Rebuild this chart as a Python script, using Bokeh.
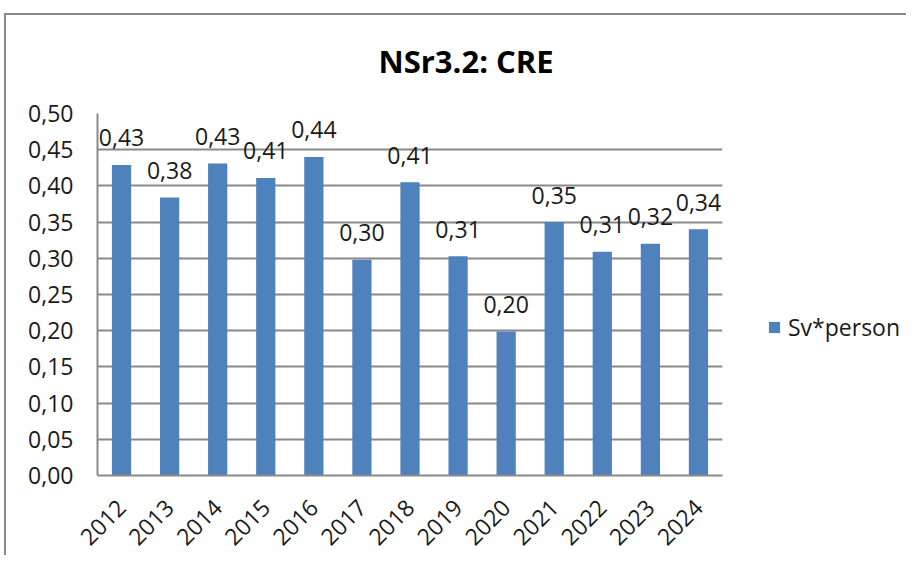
from math import pi
from bokeh.plotting import figure
from bokeh.layouts import row
from bokeh.models import ColumnDataSource, FixedTicker, Legend, LegendItem, Title
from bokeh.core.properties import value
from bokeh.embed import file_html
from bokeh.resources import INLINE

years = ["2012", "2013", "2014", "2015", "2016", "2017", "2018",
         "2019", "2020", "2021", "2022", "2023", "2024"]
values = [0.429, 0.384, 0.431, 0.411, 0.440, 0.298, 0.405,
          0.303, 0.199, 0.350, 0.309, 0.320, 0.340]
value_labels = ["0,43", "0,38", "0,43", "0,41", "0,44", "0,30", "0,41",
                "0,31", "0,20", "0,35", "0,31", "0,32", "0,34"]
y_ticks = [0.0, 0.05, 0.10, 0.15, 0.20, 0.25, 0.30, 0.35, 0.40, 0.45, 0.50]
y_tick_labels = ["0,00", "0,05", "0,10", "0,15", "0,20", "0,25",
                 "0,30", "0,35", "0,40", "0,45", "0,50"]
series_name = "Sv*person"
title_text = "NSr3.2: CRE"

FONT = "Open Sans"
GRID = "#898989"
BAR = "#4F81BD"

src = ColumnDataSource(dict(x=years, top=values, lab=value_labels))

p = figure(x_range=years, y_range=(0, 0.5), width=718, height=554,
           output_backend="svg", toolbar_location=None,
           min_border_left=91, min_border_right=2,
           min_border_top=112, min_border_bottom=80)
p.styles = {"margin-top": "-14px"}
p.x_range.range_padding = 0
p.outline_line_color = None
p.background_fill_color = "white"
p.border_fill_alpha = 0

t = Title(text=title_text, align="left", offset=281, text_font=FONT,
          text_font_size="31px", text_font_style="bold", text_color="#000000",
          standoff=64)
p.add_layout(t, "above")

bars = p.vbar(x="x", top="top", width=0.4, source=src, fill_color=BAR, line_color=None)

p.text(x="x", y="top", text="lab", source=src, text_align="center",
       text_baseline="alphabetic", y_offset=-27, text_font=value(FONT),
       text_font_size="23px", text_color="#1a1a1a")

p.yaxis.ticker = FixedTicker(ticks=y_ticks)
p.yaxis.major_label_overrides = {t_: l for t_, l in zip(y_ticks, y_tick_labels)}
p.ygrid.ticker = FixedTicker(ticks=y_ticks)
p.xgrid.grid_line_color = None
p.ygrid.grid_line_color = GRID
p.ygrid.grid_line_width = 2

for ax in (p.xaxis, p.yaxis):
    ax.axis_line_color = GRID
    ax.axis_line_width = 2
    ax.major_tick_line_color = None
    ax.minor_tick_line_color = None
    ax.major_tick_out = 0
    ax.major_tick_in = 0
    ax.major_label_text_font = FONT
    ax.major_label_text_font_size = "23px"
    ax.major_label_text_color = "#1a1a1a"

p.yaxis.major_label_standoff = 24
p.xaxis.major_label_standoff = 28
p.xaxis.major_label_orientation = pi / 4

# legend panel to the right of the plot
lg = figure(width=182, height=540, x_range=(0, 1), y_range=(0, 1),
            output_backend="svg", toolbar_location=None,
            min_border_left=0, min_border_right=0,
            min_border_top=0, min_border_bottom=0)
lg.axis.visible = False
lg.grid.grid_line_color = None
lg.outline_line_color = None
lg.background_fill_color = "white"
lg.border_fill_alpha = 0
key = lg.vbar(x=[0], top=[0], width=0, fill_color=BAR, line_color=None)
legend = Legend(items=[LegendItem(label=series_name, renderers=[key])],
                location=(43, 132), padding=0, margin=0, spacing=0,
                glyph_width=14, glyph_height=14, label_standoff=7,
                label_text_font=FONT, label_text_font_size="23px",
                label_text_color="#1a1a1a", border_line_color=None,
                background_fill_alpha=0)
lg.add_layout(legend, "center")

layout = row(p, lg)
layout.styles = {"margin-left": "4px", "margin-top": "13px",
                 "border-left": "2px solid #898989", "border-top": "2px solid #898989"}

open("out.html", "w").write(file_html(layout, INLINE))
